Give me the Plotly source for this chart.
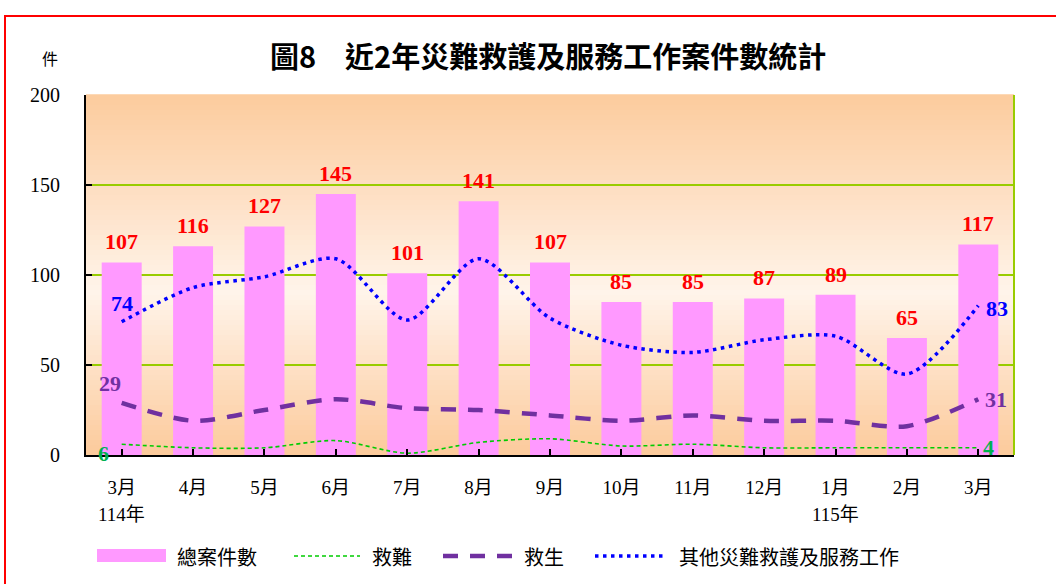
import plotly.graph_objects as go

# ---------------- data ----------------
months = ["3月", "4月", "5月", "6月", "7月", "8月", "9月", "10月", "11月", "12月", "1月", "2月", "3月"]
years = ["114年", "", "", "", "", "", "", "", "", "", "115年", "", ""]
total = [107, 116, 127, 145, 101, 141, 107, 85, 85, 87, 89, 65, 117]
rescue_disaster = [6, 4, 4, 8, 1, 7, 9, 5, 6, 4, 4, 4, 4]          # 救難
rescue_life = [29, 19, 25, 31, 26, 25, 22, 19, 22, 19, 19, 16, 31]   # 救生
other_service = [74, 93, 99, 109, 75, 109, 76, 61, 57, 64, 66, 45, 83]  # 其他災難救護及服務工作
y_ticks = [0, 50, 100, 150, 200]

# ---------------- layout geometry ----------------
W, H = 1056, 584
L, R, T, B = 86, 1014, 95, 455   # plot area in pixels
PW, PH = R - L, B - T


def px(x):
    """page pixel -> paper coordinate"""
    return (x - L) / PW


def py(y):
    return (B - y) / PH


cats = list(range(len(months)))
SERIF = "Liberation Serif, Noto Sans CJK TC, serif"
CJK = "Noto Sans CJK TC, Liberation Serif, sans-serif"

fig = go.Figure()

fig.add_trace(go.Bar(
    x=cats, y=total, name="總案件數", marker=dict(color="#FF99FF", line=dict(width=0)),
    width=0.56, showlegend=False,
))
fig.add_trace(go.Scatter(
    x=cats, y=rescue_disaster, name="救難", mode="lines", showlegend=False,
    line=dict(color="#00CC00", width=1.6, dash="4px,3px", shape="spline", smoothing=0.8),
))
fig.add_trace(go.Scatter(
    x=cats, y=rescue_life, name="救生", mode="lines", showlegend=False,
    line=dict(color="#7030A0", width=4.5, dash="15px,12px", shape="spline", smoothing=0.8),
))
fig.add_trace(go.Scatter(
    x=cats, y=other_service, name="其他災難救護及服務工作", mode="lines", showlegend=False,
    line=dict(color="#0000FF", width=3.5, dash="3.5px,4.5px", shape="spline", smoothing=0.8),
))

shapes = []
# gradient background of plot area
top_c = (252, 203, 157)
mid_c = (255, 244, 234)
bot_c = (252, 202, 155)
f_light = 0.45
N = 72
for i in range(N):
    f0 = i / N
    f1 = (i + 1) / N
    fm = (f0 + f1) / 2
    if fm < f_light:
        t = fm / f_light
        c = [bot_c[k] + (mid_c[k] - bot_c[k]) * t for k in range(3)]
    else:
        t = (fm - f_light) / (1 - f_light)
        c = [mid_c[k] + (top_c[k] - mid_c[k]) * t for k in range(3)]
    shapes.append(dict(type="rect", xref="x domain", yref="y domain", x0=0, x1=1, y0=f0, y1=f1 + 0.002,
                       fillcolor="rgb(%d,%d,%d)" % tuple(int(round(v)) for v in c),
                       line=dict(width=0), layer="below"))
# right border (green)
shapes.append(dict(type="line", xref="x domain", yref="y domain", x0=1, x1=1, y0=0, y1=1,
                   line=dict(color="#99CC00", width=2), layer="above"))
# outer red frame
shapes.append(dict(type="rect", xref="paper", yref="paper", x0=px(5), x1=px(1070), y0=py(600), y1=py(16),
                   line=dict(color="#FF0000", width=2), fillcolor="rgba(0,0,0,0)"))

annotations = []
# title and unit
annotations.append(dict(xref="paper", yref="paper", x=px(548), y=py(55), text="<b>圖8　近2年災難救護及服務工作案件數統計</b>",
                        showarrow=False, font=dict(family=CJK, size=29, color="#000000"),
                        xanchor="center", yanchor="middle"))
annotations.append(dict(xref="paper", yref="paper", x=px(50), y=py(58), text="件",
                        showarrow=False, font=dict(family=CJK, size=16, color="#000000"),
                        xanchor="center", yanchor="middle"))
# year labels under months
for i, yl in enumerate(years):
    if yl:
        annotations.append(dict(xref="x", yref="paper", x=cats[i], y=py(514), text=yl, showarrow=False,
                                font=dict(family=SERIF, size=19, color="#000000"),
                                xanchor="center", yanchor="middle"))
# total labels
for i, v in enumerate(total):
    annotations.append(dict(x=cats[i], y=v, text="<b>%d</b>" % v, showarrow=False, yanchor="bottom",
                            yshift=6, font=dict(family=SERIF, size=22, color="#FF0000")))
# end labels for lines
lab_font = lambda c: dict(family=SERIF, size=22, color=c)
annotations += [
    dict(x=cats[0], y=other_service[0], text="<b>%d</b>" % other_service[0], showarrow=False,
         xanchor="center", yanchor="middle", yshift=18, font=lab_font("#0000FF")),
    dict(x=cats[-1], y=other_service[-1], text="<b>%d</b>" % other_service[-1], showarrow=False,
         xanchor="left", yanchor="middle", xshift=6, yshift=-3, font=lab_font("#0000FF")),
    dict(x=cats[0], y=rescue_life[0], text="<b>%d</b>" % rescue_life[0], showarrow=False,
         xanchor="center", yanchor="middle", xshift=-12, yshift=19, font=lab_font("#7030A0")),
    dict(x=cats[-1], y=rescue_life[-1], text="<b>%d</b>" % rescue_life[-1], showarrow=False,
         xanchor="left", yanchor="middle", xshift=5, font=lab_font("#7030A0")),
    dict(x=cats[0], y=rescue_disaster[0], text="<b>%d</b>" % rescue_disaster[0], showarrow=False,
         xanchor="right", yanchor="middle", xshift=-11, yshift=-9, font=lab_font("#00B050")),
    dict(x=cats[-1], y=rescue_disaster[-1], text="<b>%d</b>" % rescue_disaster[-1], showarrow=False,
         xanchor="left", yanchor="middle", xshift=3, font=lab_font("#00B050")),
]

# manual legend
ly = py(556)
shapes.append(dict(type="rect", xref="paper", yref="paper", x0=px(97), x1=px(166), y0=py(562), y1=py(549),
                   fillcolor="#FF99FF", line=dict(width=0)))
shapes.append(dict(type="line", xref="paper", yref="paper", x0=px(294), x1=px(360), y0=ly, y1=ly,
                   line=dict(color="#00CC00", width=1.6, dash="4px,3px")))
shapes.append(dict(type="line", xref="paper", yref="paper", x0=px(443), x1=px(513), y0=ly, y1=ly,
                   line=dict(color="#7030A0", width=4.5, dash="15px,12px")))
shapes.append(dict(type="line", xref="paper", yref="paper", x0=px(595), x1=px(666), y0=ly, y1=ly,
                   line=dict(color="#0000FF", width=3.5, dash="3.5px,4.5px")))
for name, xx in [("總案件數", 175), ("救難", 370), ("救生", 522), ("其他災難救護及服務工作", 677)]:
    annotations.append(dict(xref="paper", yref="paper", x=px(xx), y=ly, text=name, showarrow=False,
                            xanchor="left", yanchor="middle",
                            font=dict(family=CJK, size=20, color="#000000")))

fig.update_layout(
    width=W, height=H,
    margin=dict(l=L, r=W - R, t=T, b=H - B, pad=0),
    paper_bgcolor="#FFFFFF", plot_bgcolor="rgba(0,0,0,0)",
    showlegend=False, bargap=0.44,
    shapes=shapes, annotations=annotations,
)
fig.update_xaxes(
    tickmode="array", tickvals=cats, ticktext=months, range=[-0.5, len(cats) - 0.5],
    tickson="boundaries", ticks="inside", ticklen=6, tickwidth=1.5, tickcolor="#000000",
    showline=True, linecolor="#000000", linewidth=2, showgrid=False, zeroline=False,
    tickfont=dict(family=SERIF, size=19, color="#000000"), ticklabelstandoff=14,
)
fig.update_yaxes(
    range=[0, 200], tickmode="array", tickvals=y_ticks, ticktext=[str(v) for v in y_ticks],
    ticks="inside", ticklen=6, tickwidth=2, tickcolor="#000000",
    showline=True, linecolor="#000000", linewidth=2,
    showgrid=True, gridcolor="#99CC00", gridwidth=2, zeroline=False,
    tickfont=dict(family=SERIF, size=20, color="#000000"), ticklabelstandoff=20,
)

fig.write_html(
    "out.html",
    config={"displayModeBar": False},
    post_script="document.body.style.margin='0';document.body.style.overflow='hidden';",
)
